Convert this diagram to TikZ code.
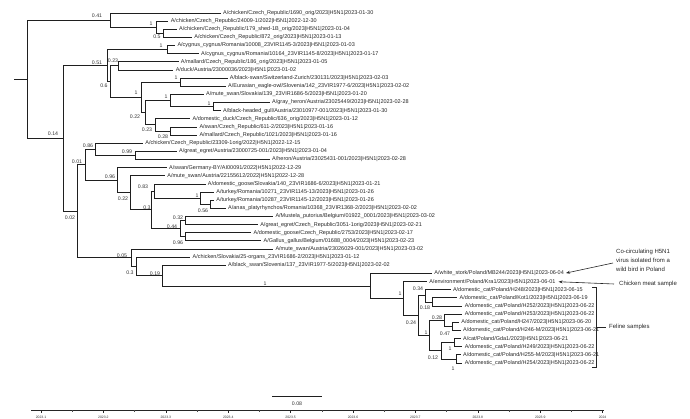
\documentclass[tikz,border=0pt]{standalone}
\usepackage{fontspec}
\setmainfont{Liberation Sans}
\usetikzlibrary{arrows.meta}
\begin{document}
\begin{tikzpicture}[x=1pt,y=-1pt,
  br/.style={line width=0.85pt, black!88},
  lf/.style={anchor=west, xshift=2.2pt, inner sep=0pt, font=\fontsize{5.5}{6}\selectfont, text=black!85},
  sp/.style={inner sep=0pt, font=\fontsize{5.2}{6}\selectfont, text=black!80},
  anno/.style={inner sep=0pt, font=\fontsize{6}{9}\selectfont, text=black!85},
  arr/.style={line width=0.6pt, black!85, -{Stealth[length=4pt,width=3pt]}},
  axl/.style={inner sep=0pt, font=\fontsize{3.4}{4}\selectfont, text=black!80}]
\useasboundingbox (0,0) rectangle (690,419);
% ---------- internal nodes ----------
\coordinate (root) at (14,79.295);
\coordinate (R) at (27,79.295);
\coordinate (A) at (110,20.12);
\coordinate (A1) at (156,27.245);
\coordinate (A2) at (163,33.35);
\coordinate (B) at (63,138.47);
\coordinate (D) at (107,65.655);
\coordinate (Cy) at (167,49.63);
\coordinate (E) at (110,81.68);
\coordinate (P78) at (118,65.91);
\coordinate (F) at (141,97.45);
\coordinate (P910) at (180,82.19);
\coordinate (G) at (145,112.715);
\coordinate (I) at (170,100.505);
\coordinate (J) at (213,106.61);
\coordinate (H) at (155,124.925);
\coordinate (K) at (170,131.03);
\coordinate (C) at (77,211.28);
\coordinate (L) at (85,164.80);
\coordinate (M) at (95,149.345);
\coordinate (N) at (135,155.45);
\coordinate (n1) at (117,180.25);
\coordinate (n2) at (130,192.84);
\coordinate (n3) at (151,209.885);
\coordinate (n4) at (154,191.06);
\coordinate (W) at (200,198.185);
\coordinate (X) at (210,204.29);
\coordinate (Y) at (180,228.71);
\coordinate (Z1) at (185,220.57);
\coordinate (Z2) at (185,236.85);
\coordinate (Q) at (131,257.755);
\coordinate (R2) at (136,266.45);
\coordinate (R3) at (162,275.705);
\coordinate (P0) at (370,286.07);
\coordinate (P1) at (403,298.665);
\coordinate (P2) at (418,315.71);
\coordinate (P3a) at (425,295.865);
\coordinate (P3b) at (432,301.97);
\coordinate (P5) at (429,335.55);
\coordinate (P7) at (444,320.285);
\coordinate (P6) at (452,326.39);
\coordinate (P8) at (441,350.81);
\coordinate (P9) at (454,342.67);
\coordinate (P10) at (456,358.95);
% ---------- tips ----------
\coordinate (t1) at (220.7,13.00);
\coordinate (t2) at (168.4,21.14);
\coordinate (t3) at (176.8,29.28);
\coordinate (t4) at (192.0,37.42);
\coordinate (t5) at (175.1,45.56);
\coordinate (t6) at (198.8,53.70);
\coordinate (t7) at (178.5,61.84);
\coordinate (t8) at (173.4,69.98);
\coordinate (t9) at (227.5,78.12);
\coordinate (t10) at (225.8,86.26);
\coordinate (t11) at (203.8,94.40);
\coordinate (t12) at (269.8,102.54);
\coordinate (t13) at (220.7,110.68);
\coordinate (t14) at (190.3,118.82);
\coordinate (t15) at (197.1,126.96);
\coordinate (t16) at (197.1,135.10);
\coordinate (t17) at (143.0,143.24);
\coordinate (t18) at (176.8,151.38);
\coordinate (t19) at (269.8,159.52);
\coordinate (t20) at (166.7,167.66);
\coordinate (t21) at (165.0,175.80);
\coordinate (t22) at (205.5,183.94);
\coordinate (t23) at (214.0,192.08);
\coordinate (t24) at (214.0,200.22);
\coordinate (t25) at (225.8,208.36);
\coordinate (t26) at (273.1,216.50);
\coordinate (t27) at (257.9,224.64);
\coordinate (t28) at (251.2,232.78);
\coordinate (t29) at (261.3,240.92);
\coordinate (t30) at (273.1,249.06);
\coordinate (t31) at (190.3,257.20);
\coordinate (t32) at (225.8,265.34);
\coordinate (t33) at (432.0,273.48);
\coordinate (t34) at (426.9,281.62);
\coordinate (t35) at (450.6,289.76);
\coordinate (t36) at (457.3,297.90);
\coordinate (t37) at (462.4,306.04);
\coordinate (t38) at (462.4,314.18);
\coordinate (t39) at (459.0,322.32);
\coordinate (t40) at (460.7,330.46);
\coordinate (t41) at (460.7,338.60);
\coordinate (t42) at (462.4,346.74);
\coordinate (t43) at (460.7,354.88);
\coordinate (t44) at (462.4,363.02);
% ---------- branches ----------
\draw[br] (root) -- (R);
\foreach \p/\c in {R/A,R/B,A/t1,A/A1,A1/t2,A1/A2,A2/t3,A2/t4,
  B/D,B/C,D/Cy,D/E,Cy/t5,Cy/t6,E/P78,E/F,P78/t7,P78/t8,F/P910,F/G,P910/t9,P910/t10,
  G/I,G/H,I/t11,I/J,J/t12,J/t13,H/t14,H/K,K/t15,K/t16,
  C/L,C/Q,L/M,L/n1,M/t17,M/N,N/t18,N/t19,n1/t20,n1/n2,n2/t21,n2/n3,n3/n4,n3/Y,
  n4/t22,n4/W,W/t23,W/X,X/t24,X/t25,Y/Z1,Y/Z2,Z1/t26,Z1/t27,Z2/t28,Z2/t29,
  Q/t30,Q/R2,R2/t31,R2/R3,R3/t32,R3/P0,P0/t33,P0/P1,P1/t34,P1/P2,
  P2/P3a,P2/P5,P3a/t35,P3a/P3b,P3b/t36,P3b/t37,P5/P7,P5/P8,P7/t38,P7/P6,P6/t39,P6/t40,
  P8/P9,P8/P10,P9/t41,P9/t42,P10/t43,P10/t44}
  \draw[br] (\p) |- (\c);
% ---------- leaf labels ----------
\node[lf] (l1) at (t1) {A/chicken/Czech\_Republic/1690\_orig/2023|H5N1|2023-01-30};
\node[lf] (l2) at (t2) {A/chicken/Czech\_Republic/24009-1/2022|H5N1|2022-12-30};
\node[lf] (l3) at (t3) {A/chicken/Czech\_Republic/179\_shed-1B\_orig/2023|H5N1|2023-01-04};
\node[lf] (l4) at (t4) {A/chicken/Czech\_Republic/872\_orig/2023|H5N1|2023-01-13};
\node[lf] (l5) at (t5) {A/cygnus\_cygnus/Romania/10008\_23VIR1145-3/2023|H5N1|2023-01-03};
\node[lf] (l6) at (t6) {A/cygnus\_cygnus/Romania/10164\_23VIR1145-8/2023|H5N1|2023-01-17};
\node[lf] (l7) at (t7) {A/mallard/Czech\_Republic/186\_orig/2023|H5N1|2023-01-05};
\node[lf] (l8) at (t8) {A/duck/Austria/23000036/2023|H5N1|2023-01-02};
\node[lf] (l9) at (t9) {A/black-swan/Switzerland-Zurich/230131/2023|H5N1|2023-02-03};
\node[lf] (l10) at (t10) {A/Eurasian\_eagle-owl/Slovenia/142\_23VIR1977-6/2023|H5N1|2023-02-02};
\node[lf] (l11) at (t11) {A/mute\_swan/Slovakia/139\_23VIR1686-5/2023|H5N1|2023-01-20};
\node[lf] (l12) at (t12) {A/gray\_heron/Austria/23025449/2023|H5N1|2023-02-28};
\node[lf] (l13) at (t13) {A/black-headed\_gull/Austria/23010977-001/2023|H5N1|2023-01-30};
\node[lf] (l14) at (t14) {A/domestic\_duck/Czech\_Republic/636\_orig/2023|H5N1|2023-01-12};
\node[lf] (l15) at (t15) {A/swan/Czech\_Republic/611-2/2023|H5N1|2023-01-16};
\node[lf] (l16) at (t16) {A/mallard/Czech\_Republic/1021/2023|H5N1|2023-01-16};
\node[lf] (l17) at (t17) {A/chicken/Czech\_Republic/23309-1orig/2022|H5N1|2022-12-15};
\node[lf] (l18) at (t18) {A/great\_egret/Austria/23000725-001/2023|H5N1|2023-01-04};
\node[lf] (l19) at (t19) {A/heron/Austria/23025431-001/2023|H5N1|2023-02-28};
\node[lf] (l20) at (t20) {A/swan/Germany-BY/AI00091/2022|H5N1|2022-12-29};
\node[lf] (l21) at (t21) {A/mute\_swan/Austria/22155612/2022|H5N1|2022-12-28};
\node[lf] (l22) at (t22) {A/domestic\_goose/Slovakia/140\_23VIR1686-6/2023|H5N1|2023-01-21};
\node[lf] (l23) at (t23) {A/turkey/Romania/10271\_23VIR1145-13/2023|H5N1|2023-01-26};
\node[lf] (l24) at (t24) {A/turkey/Romania/10287\_23VIR1145-12/2023|H5N1|2023-01-26};
\node[lf] (l25) at (t25) {A/anas\_platyrhynchos/Romania/10368\_23VIR1368-2/2023|H5N1|2023-02-02};
\node[lf] (l26) at (t26) {A/Mustela\_putorius/Belgium/01922\_0001/2023|H5N1|2023-03-02};
\node[lf] (l27) at (t27) {A/great\_egret/Czech\_Republic/3051-1orig/2023|H5N1|2023-02-21};
\node[lf] (l28) at (t28) {A/domestic\_goose/Czech\_Republic/2753/2023|H5N1|2023-02-17};
\node[lf] (l29) at (t29) {A/Gallus\_gallus/Belgium/01688\_0004/2023|H5N1|2023-02-23};
\node[lf] (l30) at (t30) {A/mute\_swan/Austria/23026029-001/2023|H5N1|2023-03-02};
\node[lf] (l31) at (t31) {A/chicken/Slovakia/25-organs\_23VIR1686-2/2023|H5N1|2023-01-12};
\node[lf] (l32) at (t32) {A/black\_swan/Slovenia/137\_23VIR1977-5/2023|H5N1|2023-02-02};
\node[lf] (l33) at (t33) {A/white\_stork/Poland/MB244/2023|H5N1|2023-06-04};
\node[lf] (l34) at (t34) {A/environment/Poland/Kra1/2023|H5N1|2023-06-01};
\node[lf] (l35) at (t35) {A/domestic\_cat/Poland/H248/2023|H5N1|2023-06-15};
\node[lf] (l36) at (t36) {A/domestic\_cat/Poland/Kot1/2023|H5N1|2023-06-19};
\node[lf] (l37) at (t37) {A/domestic\_cat/Poland/H252/2023|H5N1|2023-06-22};
\node[lf] (l38) at (t38) {A/domestic\_cat/Poland/H253/2023|H5N1|2023-06-22};
\node[lf] (l39) at (t39) {A/domestic\_cat/Poland/H247/2023|H5N1|2023-06-20};
\node[lf] (l40) at (t40) {A/domestic\_cat/Poland/H246-M/2023|H5N1|2023-06-21};
\node[lf] (l41) at (t41) {A/cat/Poland/Gda1/2023|H5N1|2023-06-21};
\node[lf] (l42) at (t42) {A/domestic\_cat/Poland/H249/2023|H5N1|2023-06-22};
\node[lf] (l43) at (t43) {A/domestic\_cat/Poland/H255-M/2023|H5N1|2023-06-21};
\node[lf] (l44) at (t44) {A/domestic\_cat/Poland/H254/2023|H5N1|2023-06-22};
% ---------- support values ----------
\node[sp] (sA) at (97,16) {0.41};
\node[sp] (sA1) at (151,24) {1};
\node[sp] (sA2) at (157,37) {0.5};
\node[sp] (sCy) at (161,46) {1};
\node[sp] (sD) at (97,63) {0.51};
\node[sp] (sP78) at (113,61) {0.23};
\node[sp] (sE) at (104,86) {0.6};
\node[sp] (sP910) at (176,78) {1};
\node[sp] (sF) at (136,93) {1};
\node[sp] (sI) at (166,97) {1};
\node[sp] (sJ) at (209,104) {1};
\node[sp] (sG) at (135,117) {0.22};
\node[sp] (sH) at (147,130) {0.23};
\node[sp] (sK) at (163,137) {0.28};
\node[sp] (sB) at (53,134) {0.14};
\node[sp] (sM) at (88,146) {0.86};
\node[sp] (sN) at (127,152) {0.99};
\node[sp] (sL) at (77,162) {0.01};
\node[sp] (sn1) at (110,177) {0.96};
\node[sp] (sn4) at (143,187) {0.83};
\node[sp] (sn2) at (123,199) {0.22};
\node[sp] (sn3) at (147,208) {0.3};
\node[sp] (sW) at (197,196) {1};
\node[sp] (sX) at (203,211) {0.56};
\node[sp] (sZ1) at (178,218) {0.32};
\node[sp] (sY) at (172,227) {0.44};
\node[sp] (sZ2) at (178,243) {0.96};
\node[sp] (sC) at (70,218) {0.02};
\node[sp] (sQ) at (122,256) {0.05};
\node[sp] (sR2) at (130,273) {0.3};
\node[sp] (sR3) at (155,274) {0.19};
\node[sp] (sP0) at (265,284) {1};
\node[sp] (sP1) at (400,294) {1};
\node[sp] (sP3a) at (418,289) {0.34};
\node[sp] (sP3b) at (425,308) {0.18};
\node[sp] (sP2) at (411,323) {0.24};
\node[sp] (sP7) at (437,318) {0.28};
\node[sp] (sP6) at (445,334) {0.47};
\node[sp] (sP5) at (426,333) {1};
\node[sp] (sP9) at (450,349) {1};
\node[sp] (sP8) at (433,358) {0.12};
\node[sp] (sP10) at (453,369) {1};
% ---------- annotations ----------
\node[anno, align=left, anchor=north west] (cocirc) at (616,249) {Co-circulating H5N1\\virus isolated from a\\wild bird in Poland};
\coordinate (a1s) at (613,263);
\draw[arr, shorten >=2pt] (a1s) -- (l33.east);
\node[anno, anchor=west] (chick) at (619,284) {Chicken meat sample};
\coordinate (a2s) at (614,284);
\draw[arr, shorten >=3pt] (a2s) -- (l34.east);
\coordinate (bk1) at (592,287);
\coordinate (bk2) at (596,287);
\coordinate (bk3) at (596,367);
\coordinate (bk4) at (592,367);
\coordinate (bkm) at (596,327);
\draw[line width=0.6pt, black!85] (bk1) -- (bk2) -- (bk3) -- (bk4);
\node[anno, anchor=west] (feline) at (609,327) {Feline samples};
\draw[line width=0.6pt, black!85] (bkm) -- ([xshift=-3pt]feline.west);
% ---------- scale bar ----------
\coordinate (sb0) at (272,396);
\coordinate (sb1) at (322,396);
\draw[br] (sb0) -- (sb1);
\node[sp] (sbl) at (297,404) {0.08};
% ---------- axis ----------
\coordinate (ax0) at (31,410);
\coordinate (ax1) at (604,410);
\draw[line width=0.6pt, black!85] (ax0) -- (ax1);
\foreach \i/\lab in {0/2023.1,1/2023.2,2/2023.3,3/2023.4,4/2023.5,5/2023.6,6/2023.7,7/2023.8,8/2023.9,9/2024}{
  \draw[line width=0.5pt, black!85] ({41+62.4*\i},410) -- ({41+62.4*\i},413);
  \node[axl] at ({41+62.4*\i},417) {\lab};
}
\foreach \i in {0,...,8}{
  \draw[line width=0.4pt, black!70] ({72.2+62.4*\i},410) -- ({72.2+62.4*\i},411.5);
}
\end{tikzpicture}
\end{document}
